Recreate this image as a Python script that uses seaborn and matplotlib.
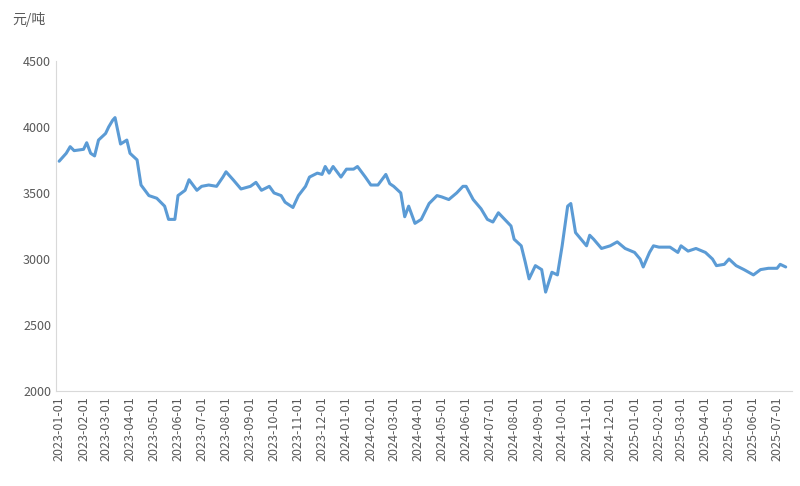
import pandas as pd
import numpy as np
import matplotlib
matplotlib.use('Agg')
import matplotlib.pyplot as plt
import matplotlib.dates as mdates
import seaborn as sns

dates = ['2023-01-01','2023-01-10','2023-01-15','2023-01-20','2023-02-01','2023-02-05','2023-02-10','2023-02-15','2023-02-20',
 '2023-03-01','2023-03-05','2023-03-10','2023-03-13','2023-03-20','2023-03-28','2023-04-01','2023-04-10','2023-04-15','2023-04-25',
 '2023-05-05','2023-05-15','2023-05-20','2023-05-28','2023-06-01','2023-06-10','2023-06-15','2023-06-25','2023-07-01','2023-07-10',
 '2023-07-20','2023-07-28','2023-08-01','2023-08-10','2023-08-20','2023-09-01','2023-09-08','2023-09-15','2023-09-25','2023-10-01',
 '2023-10-10','2023-10-15','2023-10-25','2023-11-01','2023-11-10','2023-11-15','2023-11-25','2023-12-01','2023-12-05','2023-12-10',
 '2023-12-15','2023-12-25','2024-01-01','2024-01-10','2024-01-15','2024-01-25','2024-02-01','2024-02-10','2024-02-20','2024-02-25',
 '2024-03-01','2024-03-10','2024-03-15','2024-03-20','2024-03-28','2024-04-05','2024-04-15','2024-04-25','2024-05-01','2024-05-10',
 '2024-05-20','2024-05-28','2024-06-01','2024-06-10','2024-06-20','2024-06-28','2024-07-05','2024-07-12','2024-07-20','2024-07-28',
 '2024-08-01','2024-08-10','2024-08-15','2024-08-20','2024-08-28','2024-09-05','2024-09-10','2024-09-18','2024-09-25','2024-10-01',
 '2024-10-08','2024-10-12','2024-10-18','2024-10-25','2024-11-01','2024-11-05','2024-11-10','2024-11-20','2024-12-01','2024-12-10',
 '2024-12-20','2025-01-01','2025-01-08','2025-01-12','2025-01-20','2025-01-25','2025-02-01','2025-02-15','2025-02-25','2025-03-01',
 '2025-03-10','2025-03-20','2025-04-01','2025-04-10','2025-04-15','2025-04-25','2025-05-01','2025-05-10','2025-05-20','2025-06-01',
 '2025-06-10','2025-06-20','2025-07-01','2025-07-05','2025-07-12']
prices = [3740,3800,3850,3820,3830,3880,3800,3780,3900,
 3950,4000,4050,4070,3870,3900,3800,3750,3560,3480,
 3460,3400,3300,3300,3480,3520,3600,3520,3550,3560,
 3550,3620,3660,3600,3530,3550,3580,3520,3550,3500,
 3480,3430,3390,3480,3550,3620,3650,3640,3700,3650,
 3700,3620,3680,3680,3700,3620,3560,3560,3640,3570,
 3550,3500,3320,3400,3270,3300,3420,3480,3470,3450,
 3500,3550,3550,3450,3380,3300,3280,3350,3300,3250,
 3150,3100,2980,2850,2950,2920,2750,2900,2880,3100,
 3400,3420,3200,3150,3100,3180,3150,3080,3100,3130,
 3080,3050,3000,2940,3050,3100,3090,3090,3050,3100,
 3060,3080,3050,3000,2950,2960,3000,2950,2920,2880,
 2920,2930,2930,2960,2940]

df = pd.DataFrame({'date': pd.to_datetime(dates), 'price': prices})

sns.set_style('white')
plt.rcParams['font.family'] = ['Noto Sans CJK SC', 'DejaVu Sans']

fig, ax = plt.subplots(figsize=(8, 4.86), dpi=100)
fig.subplots_adjust(left=0.07, right=0.99, top=0.875, bottom=0.195)
sns.lineplot(data=df, x='date', y='price', ax=ax, color='#5B9BD5', linewidth=2.2)

ax.set_ylim(2000, 4500)
ax.set_yticks([2000, 2500, 3000, 3500, 4000, 4500])
ax.set_xlim(pd.Timestamp('2022-12-28'), pd.Timestamp('2025-07-20'))
ax.xaxis.set_major_locator(mdates.MonthLocator())
ax.xaxis.set_major_formatter(mdates.DateFormatter('%Y-%m-%d'))
plt.setp(ax.get_xticklabels(), rotation=90)
ax.tick_params(colors='#595959', labelsize=9, length=0)
ax.set_xlabel('')
ax.set_ylabel('')
for s in ['top', 'right']:
    ax.spines[s].set_visible(False)
for s in ['left', 'bottom']:
    ax.spines[s].set_color('#d9d9d9')
fig.text(0.015, 0.96, '元/吨', color='#595959', fontsize=10, va='center')

fig.savefig('out.png')
